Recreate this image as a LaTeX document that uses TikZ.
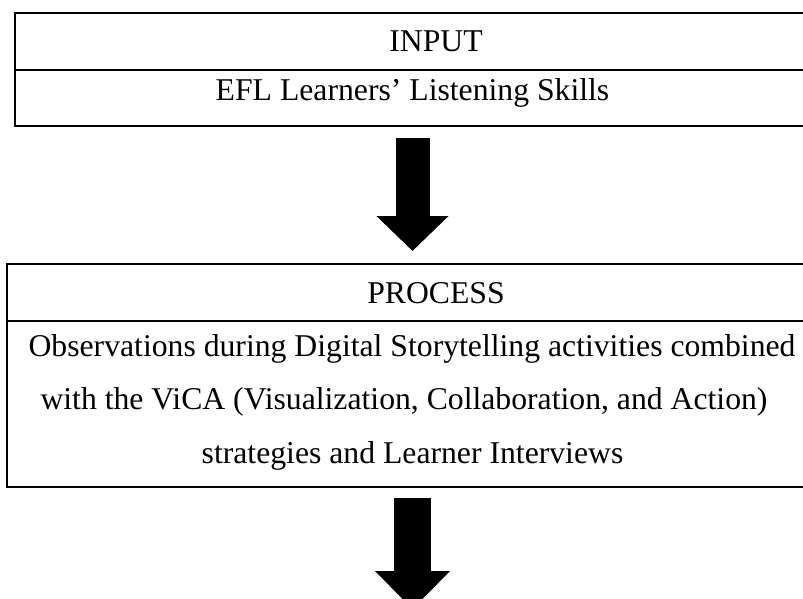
\documentclass[tikz,border=0pt]{standalone}
\usepackage{fontspec}
\setmainfont{Liberation Serif}
\usetikzlibrary{arrows.meta,positioning}
\tikzset{
  cell/.style={draw, line width=2.4pt, rectangle, minimum width=900pt,
    anchor=north west, inner sep=0pt, outer sep=0pt},
  txt/.style={font=\fontsize{31.7}{38}\selectfont, inner sep=0pt, anchor=base},
  bigarrow/.style={line width=34pt, -{Triangle[width=70pt,length=35pt]}},
}

\begin{document}
\begin{tikzpicture}[x=1pt,y=-1pt]
  \useasboundingbox (0,0) rectangle (803,599);
  \clip (0,0) rectangle (803,599);
  % input table
  \node[cell, minimum height=57pt] (inhead) at (15,13) {};
  \node[cell, minimum height=56pt] (inbody) at (inhead.south west) {};
  \node[txt] (input) at (436,52) {INPUT};
  \node[txt] (efl) at (412.5,101) {EFL Learners’ Listening Skills};
  % process table
  \node[cell, minimum height=57pt] (prochead) at (7,264) {};
  \node[cell, minimum height=166pt] (procbody) at (prochead.south west) {};
  \node[txt] (process) at (436,303) {PROCESS};
  \node[txt] (obs) at (412,356) {Observations during Digital Storytelling activities combined};
  \node[txt] (vica) at (404,409.5) {with the ViCA (Visualization, Collaboration, and Action)};
  \node[txt] (strat) at (412.5,463) {strategies and Learner Interviews};
  % block arrows
  \coordinate (next) at ([yshift=-122pt]procbody.south -| efl);
  \draw[bigarrow, shorten <=12pt, shorten >=13pt] (inbody.south -| efl) -- (prochead.north -| efl);
  \draw[bigarrow, line width=37pt, -{Triangle[width=73pt,length=38pt]}, shorten <=11pt]
    (procbody.south -| efl) -- (next);
\end{tikzpicture}
\end{document}
